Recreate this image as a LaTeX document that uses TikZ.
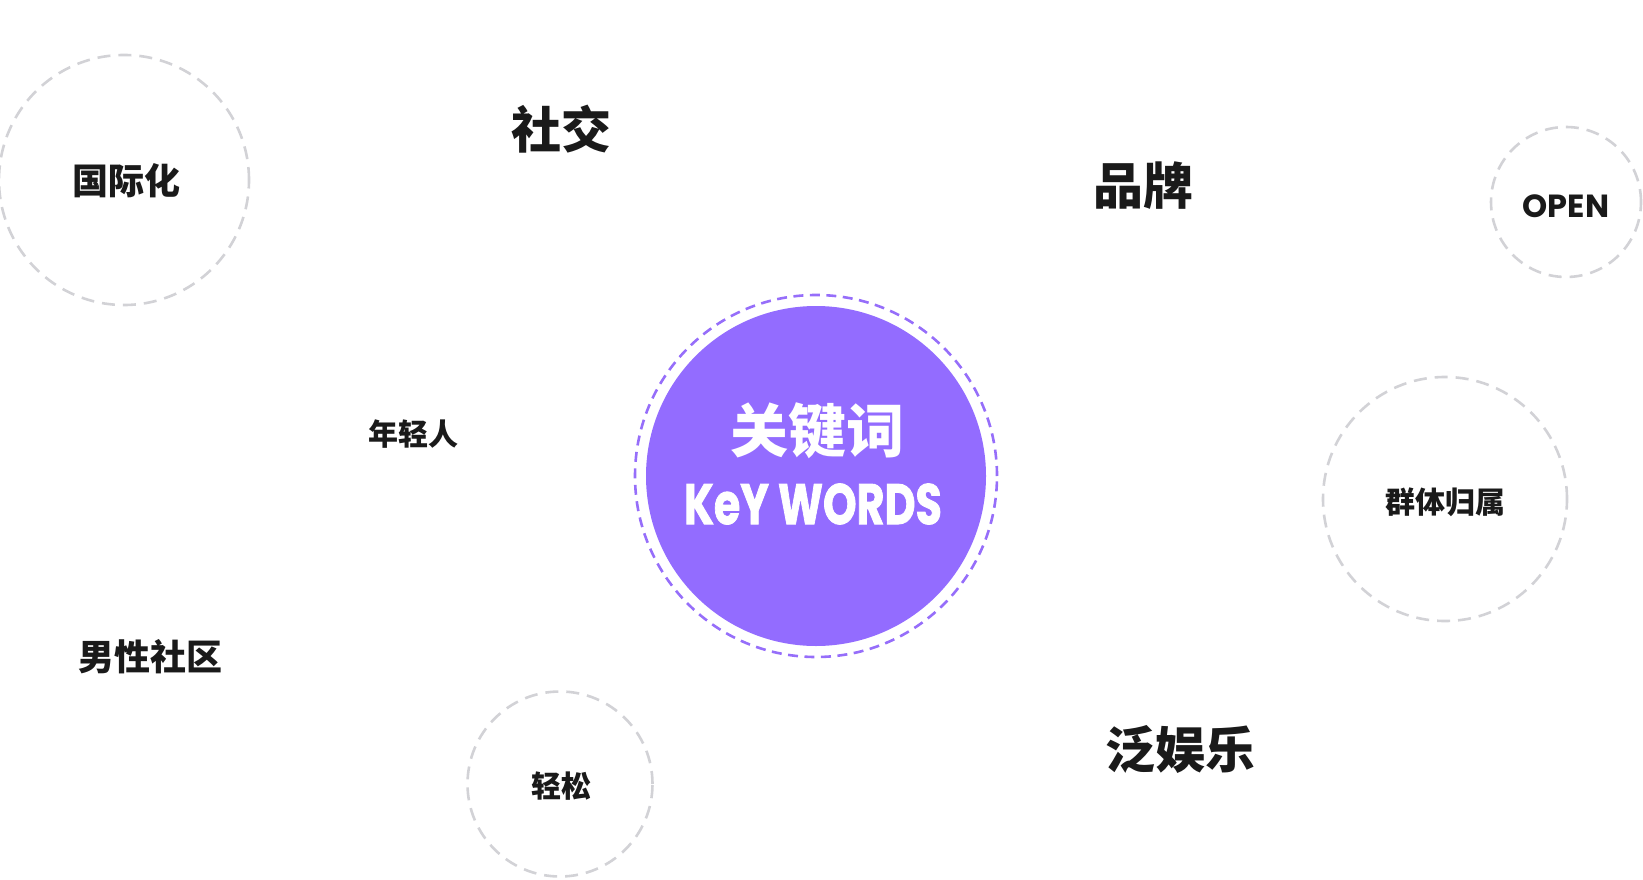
\documentclass[tikz,border=0pt]{standalone}
\usepackage{fontspec}
\newfontfamily\cjk{Noto Sans CJK SC}
\newfontfamily\pop{Poppins}
\newfontfamily\popheavy{Poppins}[BoldFeatures={FakeBold=1.6}]
\definecolor{ringgray}{RGB}{210,210,214}
\definecolor{inkc}{RGB}{26,26,26}
\definecolor{purp}{RGB}{147,108,255}
\definecolor{purpline}{RGB}{150,110,250}
\tikzset{
  ring/.style={circle, draw=ringgray, line width=2.6pt, dash pattern=on 13pt off 8pt, inner sep=0pt},
  kw/.style={text=inkc, font=\cjk\bfseries, inner sep=0pt},
}
\begin{document}
\begin{tikzpicture}[x=1pt,y=-1pt]
\useasboundingbox (0,0) rectangle (1643,880);
% rings
\node[ring, minimum size=250pt] (r1) at (124,180) {};
\node[ring, minimum size=150pt] (r2) at (1566,202) {};
\node[ring, minimum size=244pt] (r3) at (1445,499) {};
\node[ring, minimum size=185pt] (r4) at (560,784) {};
% center
\node[circle, draw=purpline, line width=2.6pt, dash pattern=on 10pt off 6.5pt, minimum size=362pt, inner sep=0pt] (cring) at (816,476) {};
\node[circle, fill=purp, minimum size=340pt, inner sep=0pt] (core) at (816,476) {};
\node[text=white, font=\cjk\bfseries\fontsize{58}{58}\selectfont, inner sep=0pt] (t1) at (817,431) {关键词};
\node[text=white, font=\popheavy\bfseries\fontsize{57}{57}\selectfont, inner sep=0pt] (t2) at (813,504) {\scalebox{0.75}[1]{KeY WORDS}};
% words
\node[kw, font=\cjk\bfseries\fontsize{36}{36}\selectfont] (w1) at (126,181) {国际化};
\node[kw, font=\cjk\bfseries\fontsize{50}{50}\selectfont] (w2) at (561,129) {社交};
\node[kw, font=\cjk\bfseries\fontsize{50}{50}\selectfont] (w3) at (1143,186) {品牌};
\node[kw, font=\pop\bfseries\fontsize{32}{32}\selectfont] (w4) at (1566,206) {OPEN};
\node[kw, font=\cjk\bfseries\fontsize{30}{30}\selectfont] (w5) at (413,434) {年轻人};
\node[kw, font=\cjk\bfseries\fontsize{30}{30}\selectfont] (w6) at (1445,502) {群体归属};
\node[kw, font=\cjk\bfseries\fontsize{36}{36}\selectfont] (w7) at (150,657) {男性社区};
\node[kw, font=\cjk\bfseries\fontsize{30}{30}\selectfont] (w8) at (561,786) {轻松};
\node[kw, font=\cjk\bfseries\fontsize{50}{50}\selectfont] (w9) at (1180,749) {泛娱乐};
\end{tikzpicture}
\end{document}
